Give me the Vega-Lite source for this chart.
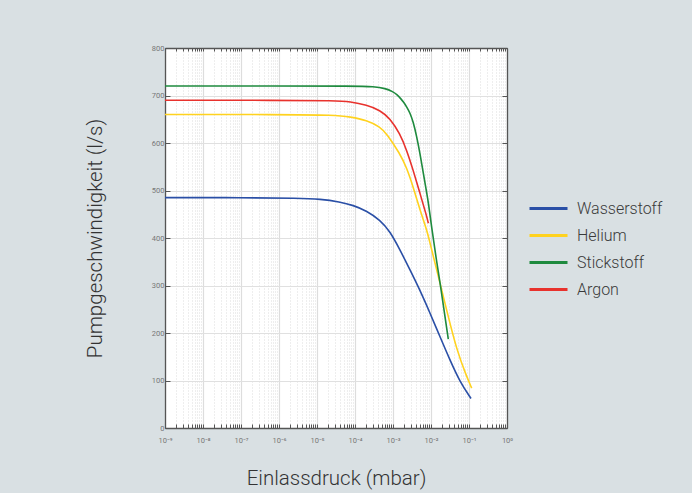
{
  "$schema": "https://vega.github.io/schema/vega-lite/v6.json",
  "width": 342,
  "height": 380,
  "autosize": {"type": "none"},
  "padding": {"left": 165, "top": 48, "right": 185, "bottom": 65},
  "background": "#d9e0e3",
  "config": {
    "view": {"fill": "white", "stroke": null},
    "font": "Roboto"
  },
  "data": {
    "values": [
      {"gas": "Wasserstoff", "p": 1e-9, "s": 485},
      {"gas": "Wasserstoff", "p": 1e-7, "s": 485},
      {"gas": "Wasserstoff", "p": 3.57e-6, "s": 484},
      {"gas": "Wasserstoff", "p": 1.2e-5, "s": 482},
      {"gas": "Wasserstoff", "p": 4.03e-5, "s": 476},
      {"gas": "Wasserstoff", "p": 8.91e-5, "s": 469},
      {"gas": "Wasserstoff", "p": 2.04e-4, "s": 457},
      {"gas": "Wasserstoff", "p": 4.55e-4, "s": 438},
      {"gas": "Wasserstoff", "p": 8.34e-4, "s": 414},
      {"gas": "Wasserstoff", "p": 1.53e-3, "s": 375},
      {"gas": "Wasserstoff", "p": 2.8e-3, "s": 333},
      {"gas": "Wasserstoff", "p": 5.14e-3, "s": 290},
      {"gas": "Wasserstoff", "p": 9.42e-3, "s": 242},
      {"gas": "Wasserstoff", "p": 1.73e-2, "s": 192},
      {"gas": "Wasserstoff", "p": 3.16e-2, "s": 143},
      {"gas": "Wasserstoff", "p": 5.79e-2, "s": 97},
      {"gas": "Wasserstoff", "p": 0.113, "s": 62},
      {"gas": "Helium", "p": 1e-9, "s": 660},
      {"gas": "Helium", "p": 1e-6, "s": 660},
      {"gas": "Helium", "p": 3.16e-5, "s": 659},
      {"gas": "Helium", "p": 7.41e-5, "s": 655},
      {"gas": "Helium", "p": 2.04e-4, "s": 648},
      {"gas": "Helium", "p": 4.57e-4, "s": 634},
      {"gas": "Helium", "p": 6.76e-4, "s": 620},
      {"gas": "Helium", "p": 1.514e-3, "s": 578},
      {"gas": "Helium", "p": 2.291e-3, "s": 548},
      {"gas": "Helium", "p": 3.388e-3, "s": 508},
      {"gas": "Helium", "p": 5.129e-3, "s": 459},
      {"gas": "Helium", "p": 7.762e-3, "s": 417},
      {"gas": "Helium", "p": 9.12e-3, "s": 394},
      {"gas": "Helium", "p": 1.122e-2, "s": 365},
      {"gas": "Helium", "p": 1.726e-2, "s": 305},
      {"gas": "Helium", "p": 2.588e-2, "s": 248},
      {"gas": "Helium", "p": 4.742e-2, "s": 164},
      {"gas": "Helium", "p": 8.69e-2, "s": 108},
      {"gas": "Helium", "p": 0.1178, "s": 84},
      {"gas": "Stickstoff", "p": 1e-9, "s": 720},
      {"gas": "Stickstoff", "p": 1e-6, "s": 720},
      {"gas": "Stickstoff", "p": 1e-4, "s": 720},
      {"gas": "Stickstoff", "p": 3.16e-4, "s": 719},
      {"gas": "Stickstoff", "p": 6.31e-4, "s": 715},
      {"gas": "Stickstoff", "p": 1e-3, "s": 708},
      {"gas": "Stickstoff", "p": 1.259e-3, "s": 702},
      {"gas": "Stickstoff", "p": 1.585e-3, "s": 694},
      {"gas": "Stickstoff", "p": 1.905e-3, "s": 686},
      {"gas": "Stickstoff", "p": 2.291e-3, "s": 676},
      {"gas": "Stickstoff", "p": 2.818e-3, "s": 663},
      {"gas": "Stickstoff", "p": 3.388e-3, "s": 645},
      {"gas": "Stickstoff", "p": 4.169e-3, "s": 615},
      {"gas": "Stickstoff", "p": 5.129e-3, "s": 578},
      {"gas": "Stickstoff", "p": 6.31e-3, "s": 535},
      {"gas": "Stickstoff", "p": 7.762e-3, "s": 494},
      {"gas": "Stickstoff", "p": 8.511e-3, "s": 475},
      {"gas": "Stickstoff", "p": 1.072e-2, "s": 415},
      {"gas": "Stickstoff", "p": 1.349e-2, "s": 360},
      {"gas": "Stickstoff", "p": 1.738e-2, "s": 305},
      {"gas": "Stickstoff", "p": 2.188e-2, "s": 250},
      {"gas": "Stickstoff", "p": 2.851e-2, "s": 187},
      {"gas": "Argon", "p": 1e-9, "s": 690},
      {"gas": "Argon", "p": 1e-6, "s": 690},
      {"gas": "Argon", "p": 3.16e-5, "s": 689},
      {"gas": "Argon", "p": 7.41e-5, "s": 687},
      {"gas": "Argon", "p": 2.04e-4, "s": 680},
      {"gas": "Argon", "p": 4.57e-4, "s": 669},
      {"gas": "Argon", "p": 8.32e-4, "s": 652},
      {"gas": "Argon", "p": 1.514e-3, "s": 620},
      {"gas": "Argon", "p": 2.291e-3, "s": 585},
      {"gas": "Argon", "p": 3.388e-3, "s": 543},
      {"gas": "Argon", "p": 5.129e-3, "s": 494},
      {"gas": "Argon", "p": 7.762e-3, "s": 445},
      {"gas": "Argon", "p": 8.511e-3, "s": 431}
    ]
  },
  "layer": [
    {
      "mark": {"type": "line", "interpolate": "basis", "strokeWidth": 1.6},
      "encoding": {
        "x": {
          "field": "p",
          "type": "quantitative",
          "scale": {"type": "log", "domain": [1e-9, 1]},
          "axis": {
            "orient": "bottom",
            "values": [1e-9,2e-9,3e-9,4e-9,5e-9,6e-9,7e-9,8e-9,9e-9,1e-8,2e-8,3e-8,4e-8,5e-8,6e-8,7e-8,8e-8,9e-8,1e-7,2e-7,3e-7,4e-7,5e-7,6e-7,7e-7,8e-7,9e-7,1e-6,2e-6,3e-6,4e-6,5e-6,6e-6,7e-6,8e-6,9e-6,1e-5,2e-5,3e-5,4e-5,5e-5,6e-5,7e-5,8e-5,9e-5,1e-4,2e-4,3e-4,4e-4,5e-4,6e-4,7e-4,8e-4,9e-4,1e-3,2e-3,3e-3,4e-3,5e-3,6e-3,7e-3,8e-3,9e-3,0.01,0.02,0.03,0.04,0.05,0.06,0.07,0.08,0.09,0.1,0.2,0.3,0.4,0.5,0.6,0.7,0.8,0.9,1],
            "labelExpr": "abs(log(datum.value)/LN10 - round(log(datum.value)/LN10)) < 0.001 ? ['10⁻⁹','10⁻⁸','10⁻⁷','10⁻⁶','10⁻⁵','10⁻⁴','10⁻³','10⁻²','10⁻¹','10⁰'][round(log(datum.value)/LN10)+9] : ''",
            "labelOverlap": false,
            "labelBound": false,
            "labelFlush": false,
            "labelFontSize": 7.5,
            "labelColor": "#777777",
            "labelPadding": 12,
            "grid": true,
            "gridColor": {"condition": {"test": "abs(log(datum.value)/LN10 - round(log(datum.value)/LN10)) < 0.001", "value": "#dddddd"}, "value": "#d4d4d4"},
            "gridDash": {"condition": {"test": "abs(log(datum.value)/LN10 - round(log(datum.value)/LN10)) < 0.001", "value": []}, "value": [1, 2]},
            "gridWidth": {"condition": {"test": "abs(log(datum.value)/LN10 - round(log(datum.value)/LN10)) < 0.001", "value": 1.2}, "value": 0.8},
            "tickSize": -4,
            "tickColor": "#555555",
            "domainColor": "#555555",
            "domainWidth": 1.3,
            "title": "Einlassdruck (mbar)",
            "titleFont": "Roboto",
            "titleFontSize": 20.5,
            "titleFontWeight": 300,
            "titleColor": "#333333",
            "titleBaseline": "middle",
            "titleY": 50
          }
        },
        "y": {
          "field": "s",
          "type": "quantitative",
          "scale": {"domain": [0, 800]},
          "axis": {
            "orient": "left",
            "values": [0, 100, 200, 300, 400, 500, 600, 700, 800],
            "labelFontSize": 7.5,
            "labelColor": "#777777",
            "labelPadding": 6,
            "tickSize": -5,
            "tickColor": "#555555",
            "domainColor": "#555555",
            "domainWidth": 1.3,
            "grid": true,
            "gridColor": "#e0e0e0",
            "gridWidth": 1.2,
            "title": "Pumpgeschwindigkeit (l/s)",
            "titleFont": "Roboto",
            "titleFontSize": 20.5,
            "titleFontWeight": 300,
            "titleColor": "#333333",
            "titleAngle": -90,
            "titleAlign": "center",
            "titleBaseline": "middle",
            "titleX": -70,
            "titleY": 190
          }
        },
        "color": {
          "field": "gas",
          "type": "nominal",
          "scale": {
            "domain": ["Wasserstoff", "Helium", "Stickstoff", "Argon"],
            "range": ["#2a4fa6", "#ffd21f", "#1e8a3e", "#e8322d"]
          },
          "legend": {
            "title": null,
            "orient": "none",
            "legendX": 363,
            "legendY": 147,
            "padding": 0,
            "symbolType": "stroke",
            "symbolSize": 1444,
            "symbolStrokeWidth": 3,
            "clipHeight": 27,
            "rowPadding": 0,
            "labelOffset": 8,
            "labelFont": "Roboto",
            "labelFontSize": 16,
            "labelFontWeight": 300,
            "labelColor": "#3a3a3a"
          }
        }
      }
    },
    {
      "mark": {"type": "line", "opacity": 0},
      "encoding": {
        "x": {
          "field": "p",
          "type": "quantitative",
          "scale": {"type": "log", "domain": [1e-9, 1]},
          "axis": {
            "orient": "top",
            "values": [1e-9,2e-9,3e-9,4e-9,5e-9,6e-9,7e-9,8e-9,9e-9,1e-8,2e-8,3e-8,4e-8,5e-8,6e-8,7e-8,8e-8,9e-8,1e-7,2e-7,3e-7,4e-7,5e-7,6e-7,7e-7,8e-7,9e-7,1e-6,2e-6,3e-6,4e-6,5e-6,6e-6,7e-6,8e-6,9e-6,1e-5,2e-5,3e-5,4e-5,5e-5,6e-5,7e-5,8e-5,9e-5,1e-4,2e-4,3e-4,4e-4,5e-4,6e-4,7e-4,8e-4,9e-4,1e-3,2e-3,3e-3,4e-3,5e-3,6e-3,7e-3,8e-3,9e-3,0.01,0.02,0.03,0.04,0.05,0.06,0.07,0.08,0.09,0.1,0.2,0.3,0.4,0.5,0.6,0.7,0.8,0.9,1],
            "labels": false,
            "grid": false,
            "tickSize": -3,
            "tickColor": "#555555",
            "domainColor": "#555555",
            "domainWidth": 1.3,
            "title": null
          }
        },
        "y": {
          "field": "s",
          "type": "quantitative",
          "axis": {
            "orient": "right",
            "values": [0, 100, 200, 300, 400, 500, 600, 700, 800],
            "labels": false,
            "grid": false,
            "tickSize": -5,
            "tickColor": "#555555",
            "domainColor": "#555555",
            "domainWidth": 1.3,
            "title": null
          }
        },
        "detail": {"field": "gas"}
      }
    }
  ],
  "resolve": {"axis": {"x": "independent", "y": "independent"}}
}
